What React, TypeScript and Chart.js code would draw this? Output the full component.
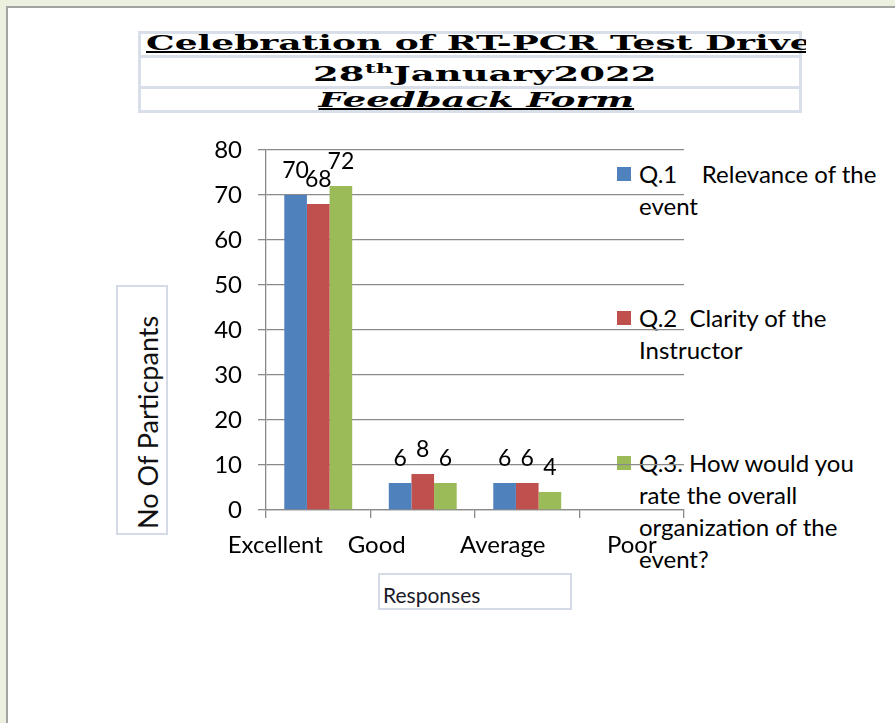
import React, { useEffect, useRef } from "react";
import { Chart, registerables } from "chart.js";

Chart.register(...registerables);

// ---- data ----
const categories = ["Excellent", "Good", "Average", "Poor"];
// trailing blanks that shift each category label (as in the source sheet)
const labelTrailingBlanks = [14, 15, 8, 0];
const q1Values = [70, 6, 6, null];
const q2Values = [68, 8, 6, null];
const q3Values = [72, 6, 4, null];
const seriesNames = [
  "Q.1    Relevance of the event",
  "Q.2  Clarity of the Instructor",
  "Q.3. How would you rate the overall organization of the event?",
];
const legendLines = [
  ["Q.1\u00a0\u00a0\u00a0\u00a0Relevance of the", "event"],
  ["Q.2\u00a0\u00a0Clarity of the", "Instructor"],
  ["Q.3. How would you", "rate the overall", "organization of the", "event?"],
];
const seriesColors = ["#4f81bd", "#c0504d", "#9bbb59"];
const yTicks = [0, 10, 20, 30, 40, 50, 60, 70, 80];
const yAxisTitle = "No Of Particpants";
const xAxisTitle = "Responses";
const titleLine1 = "Celebration of RT-PCR Test Drive";
const titleLine2Day = "28";
const titleLine2Sup = "th";
const titleLine2Rest = "January2022";
const titleLine3 = "Feedback Form";

const GRID = "#8a8a8a";

const valueLabels = {
  id: "valueLabels",
  afterDatasetsDraw(chart: any) {
    const ctx = chart.ctx;
    ctx.save();
    ctx.font = "23px Lato";
    ctx.fillStyle = "#000";
    ctx.textAlign = "center";
    ctx.textBaseline = "alphabetic";
    chart.data.datasets.forEach((ds: any, i: number) => {
      const meta = chart.getDatasetMeta(i);
      meta.data.forEach((el: any, j: number) => {
        const v = ds.data[j];
        if (v === null || v === undefined) return;
        ctx.fillText(String(v), el.x, el.y - 17);
      });
    });
    ctx.restore();
  },
};

export default function App() {
  const canvasRef = useRef<HTMLCanvasElement | null>(null);

  useEffect(() => {
    document.body.style.margin = "0";
    document.body.style.background = "#ebf1de";
    if (!canvasRef.current) return;
    Chart.defaults.font.family = "Lato";
    const chart = new Chart(canvasRef.current, {
      type: "bar",
      data: {
        labels: categories,
        datasets: [q1Values, q2Values, q3Values].map((d, i) => ({
          label: seriesNames[i],
          data: d,
          backgroundColor: seriesColors[i],
          borderWidth: 0,
          categoryPercentage: 0.65,
          barPercentage: 1,
        })),
      },
      options: {
        responsive: false,
        animation: false,
        layout: { padding: { left: 0, top: 150, right: 211, bottom: 153 } },
        plugins: { legend: { display: false }, tooltip: { enabled: false } },
        scales: {
          x: {
            afterFit: (s: any) => {
              s.height = 60;
            },
            grid: {
              offset: true,
              drawOnChartArea: false,
              drawTicks: true,
              tickLength: 8,
              color: GRID,
              lineWidth: 1.3,
            },
            border: { display: true, color: GRID, width: 1.3 },
            ticks: {
              color: "#000",
              font: { size: 24, family: "Lato" },
              padding: 13,
              maxRotation: 0,
              autoSkip: false,
              callback: (_v: any, i: number) =>
                categories[i] + " ".repeat(labelTrailingBlanks[i]),
            },
          },
          y: {
            min: 0,
            max: 80,
            afterFit: (s: any) => {
              s.width = 266;
            },
            afterBuildTicks: (s: any) => {
              s.ticks = yTicks.map((v) => ({ value: v }));
            },
            grid: { color: GRID, lineWidth: 1.3, tickLength: 8 },
            border: { display: true, color: GRID, width: 1.3 },
            ticks: {
              color: "#000",
              font: { size: 24, family: "Lato" },
              padding: 16,
            },
          },
        },
      },
      plugins: [valueLabels],
    });
    return () => chart.destroy();
  }, []);

  const serif = "'DejaVu Serif', serif";

  return (
    <div
      style={{
        position: "relative",
        width: 895,
        height: 723,
        overflow: "hidden",
        background: "#ebf1de",
      }}
    >
      <div
        style={{
          position: "absolute",
          left: 6,
          top: 6,
          width: 920,
          height: 740,
          background: "#fff",
          borderLeft: "2px solid #a3a3a3",
          borderTop: "2px solid #a3a3a3",
        }}
      />
      {/* header table */}
      <div
        style={{
          position: "absolute",
          left: 138,
          top: 31,
          width: 664,
          height: 82,
          boxSizing: "border-box",
          border: "3px solid #d9dfe9",
        }}
      />
      <div style={{ position: "absolute", left: 138, top: 55, width: 664, height: 3, background: "#d9dfe9" }} />
      <div style={{ position: "absolute", left: 138, top: 86, width: 664, height: 3, background: "#d9dfe9" }} />
      <div
        style={{
          position: "absolute",
          left: 146,
          top: 33,
          width: 660,
          height: 24,
          overflow: "hidden",
        }}
      >
        <div
          style={{
            position: "absolute",
            left: 0,
            top: 0,
            font: `bold 20px/20px ${serif}`,
            textDecoration: "underline",
            whiteSpace: "nowrap",
            transform: "scaleX(1.8)",
            transformOrigin: "0 0",
            color: "#000",
          }}
        >
          {titleLine1}
        </div>
      </div>
      <div
        style={{
          position: "absolute",
          left: 138,
          top: 64,
          width: 664,
          textAlign: "center",
        }}
      >
        <span
          style={{
            display: "inline-block",
            font: `bold 20px/20px ${serif}`,
            whiteSpace: "nowrap",
            transform: "scaleX(1.85)",
            transformOrigin: "50% 0",
            color: "#000",
            marginLeft: 30,
          }}
        >
          {titleLine2Day}
          <sup style={{ fontSize: 13, lineHeight: 0 }}>{titleLine2Sup}</sup>
          {titleLine2Rest}
        </span>
      </div>
      <div
        style={{
          position: "absolute",
          left: 138,
          top: 90,
          width: 664,
          textAlign: "center",
        }}
      >
        <span
          style={{
            display: "inline-block",
            font: `italic bold 20px/20px ${serif}`,
            textDecoration: "underline",
            whiteSpace: "nowrap",
            transform: "scaleX(1.85)",
            transformOrigin: "50% 0",
            color: "#000",
            marginLeft: 12,
          }}
        >
          {titleLine3}
        </span>
      </div>

      {/* y axis title box */}
      <div
        style={{
          position: "absolute",
          left: 116,
          top: 285,
          width: 52,
          height: 250,
          boxSizing: "border-box",
          border: "2px solid #d5dbe6",
        }}
      >
        <span
          style={{
            position: "absolute",
            left: 15,
            top: 242,
            transform: "rotate(-90deg)",
            transformOrigin: "0 0",
            whiteSpace: "nowrap",
            font: "27px/30px Lato",
            color: "#111",
          }}
        >
          {yAxisTitle}
        </span>
      </div>

      {/* x axis title box */}
      <div
        style={{
          position: "absolute",
          left: 378,
          top: 573,
          width: 194,
          height: 37,
          boxSizing: "border-box",
          border: "2px solid #d5dbe6",
          padding: "7px 0 0 3px",
          font: "21px/25px Lato",
          color: "#1a1a2a",
        }}
      >
        {xAxisTitle}
      </div>

      {/* legend (beneath the canvas so gridlines cross it) */}
      {legendLines.map((lines, i) => (
        <div
          key={i}
          style={{
            position: "absolute",
            left: 617,
            top: [158, 302, 447][i],
            width: 275,
            zIndex: 1,
          }}
        >
          <div
            style={{
              position: "absolute",
              left: 0,
              top: 9,
              width: 14,
              height: 14,
              background: seriesColors[i],
            }}
          />
          <div
            style={{
              position: "absolute",
              left: 22,
              top: 0,
              font: "24px/32px Lato",
              color: "#000",
              whiteSpace: "nowrap",
            }}
          >
            {lines.map((l, k) => (
              <div key={k}>{l}</div>
            ))}
          </div>
        </div>
      ))}

      <canvas
        ref={canvasRef}
        width={895}
        height={723}
        style={{ position: "absolute", left: 0, top: 0, zIndex: 2 }}
      />
    </div>
  );
}
